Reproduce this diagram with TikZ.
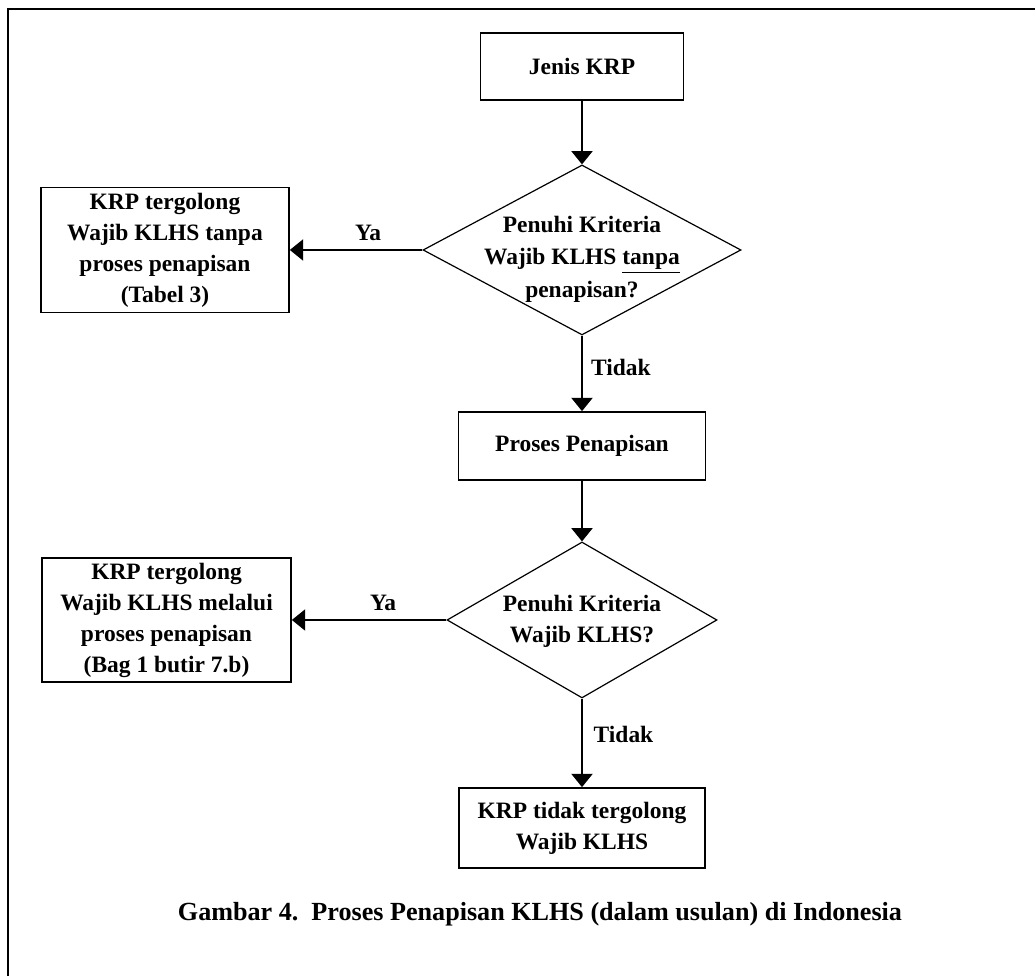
\documentclass[tikz,border=0pt]{standalone}
\usepackage{fontspec}
\setmainfont{Liberation Serif}
\usepackage{tikz}
\usetikzlibrary{positioning,shapes.geometric,arrows.meta}

\begin{document}
\begin{tikzpicture}[node distance=137.6pt, every node/.style={font=\fontsize{17.6}{23.25}\selectfont\bfseries}]
    \tikzstyle{block} = [rectangle, draw, align=center, minimum width=185.25pt,
        minimum height=51pt, line width=1.3pt, inner sep=2pt]
    \tikzstyle{decision} = [diamond, draw, line width=0.9pt, inner sep=0pt]
    \tikzstyle{arrow} = [line width=0.9pt,->,>={Triangle[width=16pt,length=10pt]}]

    \useasboundingbox (-436.5pt,49.875pt) rectangle (339.75pt,-682.125pt);
    \draw [line width=1.5pt] (-430.5pt,-682.125pt) -- (-430.5pt,43.125pt) -- (339.75pt,43.125pt);

    \node [block, minimum width=152.25pt, minimum height=50.25pt] (jenis) {Jenis KRP};
    \node [decision, minimum width=238.5pt, minimum height=127.5pt, below of=jenis] (crit1) {};
    \node [align=center, yshift=-7pt, font=\fontsize{17.6}{24.5}\selectfont\bfseries] (crit1txt) at (crit1)
        {Penuhi Kriteria\\Wajib KLHS \underline{tanpa}\\penapisan?};
    \node [block, minimum width=186pt, minimum height=93.75pt, node distance=312.75pt, left of=crit1] (wajib1)
        {KRP tergolong\\Wajib KLHS tanpa\\proses penapisan\\(Tabel 3)};
    \node [block, minimum width=185.25pt, minimum height=51pt, node distance=147pt, below of=crit1] (proses)
        {Proses Penapisan};
    \node [decision, minimum width=202.5pt, minimum height=117pt, node distance=130.5pt, below of=proses] (crit2) {};
    \node [align=center, yshift=-1pt] (crit2txt) at (crit2) {Penuhi Kriteria\\Wajib KLHS?};
    \node [block, minimum width=186.75pt, minimum height=93pt, node distance=311.6pt, left of=crit2] (wajib2)
        {KRP tergolong\\Wajib KLHS melalui\\proses penapisan\\(Bag 1 butir 7.b)};
    \node [block, minimum width=184.5pt, minimum height=60pt, node distance=156pt, below of=crit2] (bebas)
        {KRP tidak tergolong\\Wajib KLHS};
    \node [node distance=64.5pt, below of=bebas, xshift=-31.5pt, font=\fontsize{19.6}{24}\selectfont\bfseries] (caption)
        {Gambar 4.\ \ Proses Penapisan KLHS (dalam usulan) di Indonesia};

    \draw [arrow] (jenis) -- (crit1);
    \draw [arrow] (crit1.west) -- node[pos=0.41, above=3pt] (ya1) {Ya} (wajib1.east);
    \draw [arrow] (crit1.south) -- node[pos=0.42, right=3pt] (tidak1) {Tidak} (proses.north);
    \draw [arrow] (proses) -- (crit2);
    \draw [arrow] (crit2.west) -- node[pos=0.41, above=3pt] (ya2) {Ya} (wajib2.east);
    \draw [arrow] (crit2.south) -- node[pos=0.41, right=5pt] (tidak2) {Tidak} (bebas.north);
\end{tikzpicture}
\end{document}
